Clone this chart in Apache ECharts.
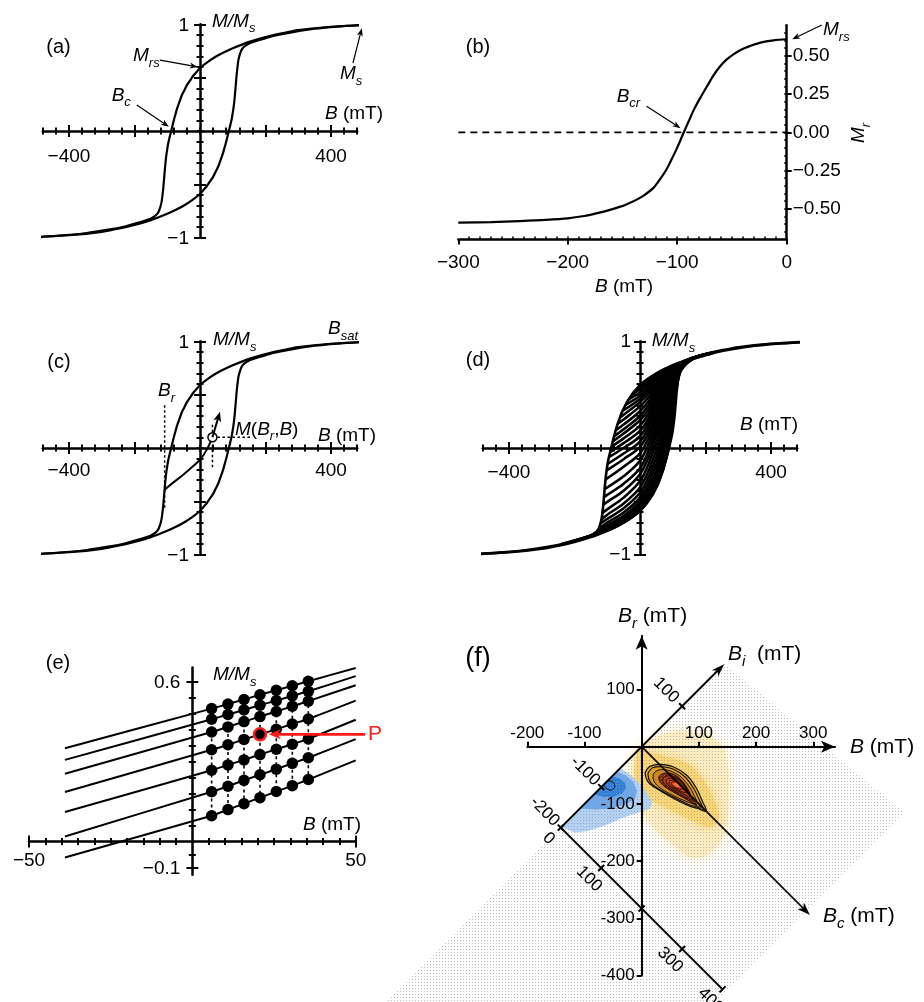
<!DOCTYPE html>
<html>
<head>
<meta charset="utf-8">
<title>Hysteresis loop, FORCs and FORC distribution</title>
<script src="https://cdn.jsdelivr.net/npm/echarts@6/dist/echarts.min.js"></script>
<style>
html,body{margin:0;padding:0;background:#ffffff;}
#chart{width:924px;height:1002px;}
</style>
</head>
<body>
<div id="chart"></div>
<script>
// ---------------- major hysteresis loop (B in mT, M/Ms) ----------------
const loopUpperB = [-500,-420,-350,-280,-224,-185,-165,-153,-143,-135,-130,-126,-123,-120,-117,-114.5,-112,-109.5,-107,-104.5,-102,-99.5,-97,-92.5,-88,-84,-80,-75,-70,-63,-56,-48,-40,-30,-20,-10,0,25,50,75,100,150,200,250,300,400,500];
const loopUpperM = [-0.995,-0.978,-0.958,-0.925,-0.89,-0.855,-0.838,-0.825,-0.808,-0.79,-0.775,-0.755,-0.73,-0.70,-0.66,-0.60,-0.53,-0.44,-0.35,-0.27,-0.21,-0.16,-0.115,-0.055,0,0.05,0.10,0.155,0.21,0.27,0.33,0.38,0.43,0.475,0.52,0.555,0.59,0.65,0.70,0.74,0.775,0.835,0.88,0.915,0.945,0.977,0.993];
const loopLowerB = [-500,-400,-300,-250,-200,-150,-100,-75,-50,-25,0,10,20,30,40,48,56,63,70,75,80,84,88,92.5,97,99.5,102,104.5,107,109.5,112,114.5,117,120,123,126,130,135,143,153,165,185,224,280,350,420,500];
const loopLowerM = [-0.993,-0.977,-0.945,-0.915,-0.88,-0.835,-0.775,-0.74,-0.70,-0.65,-0.59,-0.555,-0.52,-0.475,-0.43,-0.38,-0.33,-0.27,-0.21,-0.155,-0.10,-0.05,0,0.055,0.115,0.16,0.21,0.27,0.35,0.44,0.53,0.60,0.66,0.70,0.73,0.755,0.775,0.79,0.808,0.825,0.838,0.855,0.89,0.925,0.958,0.978,0.995];

// ---------------- (b) remanence curve ----------------
const remB = [-300,-270,-244,-220,-200,-185,-174,-163,-152,-144,-137,-130,-122,-116,-110,-105,-100,-94,-89,-85,-79,-73,-67,-61,-55,-49,-43,-35,-24,-12,0];
const remM = [-0.591,-0.587,-0.58,-0.572,-0.562,-0.547,-0.53,-0.51,-0.486,-0.463,-0.44,-0.41,-0.365,-0.31,-0.245,-0.175,-0.10,0,0.08,0.145,0.225,0.298,0.37,0.43,0.475,0.508,0.535,0.56,0.586,0.601,0.608];

// ---------------- (c) one reversal curve ----------------
const forcOneB = [-108,-80,-51,-25,0,20,38];
const forcOneM = [-0.39,-0.32,-0.25,-0.18,-0.11,-0.02,0.10];
const forcOneBr = -108;
const forcOnePoint = [38, 0.10];
const forcOneTip = [61, 0.34];

// ---------------- (d) family of reversal curves ----------------
const forcBr = [-240,-200,-180,-165,-150,-140,-133,-127,-122,-118,-115,-112,-110,-108,-105,-102,-99,-95,-91,-87,-83,-79,-74,-68,-61,-53,-44,-34,-24,-13];
const forcStartM = [-0.90,-0.868,-0.85,-0.836,-0.819,-0.80,-0.78,-0.76,-0.71,-0.67,-0.61,-0.53,-0.458,-0.386,-0.294,-0.21,-0.15,-0.086,-0.037,0.0125,0.0625,0.111,0.166,0.227,0.287,0.349,0.405,0.457,0.502,0.545];
const forcGridB = [-100,-50,0,30,60,90,120,160,220];
const forcM = [
  [-0.772,-0.697,-0.588,-0.474,-0.294,0.03,0.69,0.833,0.887],
  [-0.77,-0.695,-0.585,-0.47,-0.29,0.04,0.69,0.833,0.887],
  [-0.765,-0.69,-0.577,-0.46,-0.275,0.065,0.70,0.834,0.887],
  [-0.76,-0.683,-0.565,-0.445,-0.25,0.11,0.71,0.835,0.888],
  [-0.752,-0.672,-0.548,-0.42,-0.21,0.18,0.72,0.836,0.888],
  [-0.74,-0.655,-0.525,-0.385,-0.165,0.25,0.73,0.837,0.889],
  [-0.725,-0.635,-0.50,-0.35,-0.115,0.32,0.735,0.838,0.889],
  [-0.70,-0.605,-0.465,-0.30,-0.055,0.39,0.74,0.838,0.89],
  [-0.665,-0.565,-0.42,-0.245,0.015,0.45,0.745,0.839,0.89],
  [-0.625,-0.52,-0.37,-0.185,0.085,0.505,0.75,0.839,0.891],
  [-0.575,-0.465,-0.31,-0.12,0.155,0.545,0.755,0.84,0.891],
  [-0.505,-0.40,-0.245,-0.055,0.225,0.585,0.76,0.84,0.892],
  [-0.44,-0.335,-0.19,0.005,0.28,0.61,0.765,0.841,0.892],
  [-0.37,-0.265,-0.12,0.065,0.325,0.63,0.768,0.841,0.892],
  [null,-0.175,-0.05,0.12,0.37,0.65,0.771,0.842,0.893],
  [null,-0.105,0.01,0.17,0.41,0.665,0.774,0.842,0.893],
  [null,-0.052,0.06,0.22,0.44,0.677,0.777,0.842,0.893],
  [null,0.0,0.11,0.26,0.47,0.688,0.78,0.843,0.893],
  [null,0.046,0.16,0.30,0.50,0.698,0.782,0.843,0.894],
  [null,0.09,0.21,0.34,0.53,0.707,0.784,0.843,null],
  [null,0.136,0.26,0.38,0.555,0.716,0.786,0.843,null],
  [null,0.176,0.30,0.42,0.58,0.724,0.788,0.844,null],
  [null,0.22,0.345,0.455,0.60,0.731,0.79,0.844,null],
  [null,0.267,0.39,0.49,0.62,0.737,0.792,0.844,null],
  [null,0.311,0.43,0.52,0.64,0.742,0.794,null,null],
  [null,null,0.46,0.55,0.658,0.747,0.796,null,null],
  [null,null,0.49,0.575,0.675,0.751,0.797,null,null],
  [null,null,0.52,0.60,0.69,0.754,0.798,null,null],
  [null,null,0.55,0.62,0.70,0.756,0.799,null,null],
  [null,null,0.57,0.64,0.707,0.758,null,null,null]
];

// ---------------- (e) measurement points ----------------
const measLineB = [-39, 50];
const measLineEndM = [[0.351,0.653],[0.307,0.622],[0.255,0.588],[0.186,0.530],[0.111,0.458],[0.019,0.385],[-0.060,0.305]];
const measDotB = [5.9,10.9,15.8,20.7,25.7,30.6,35.5];
const measDotM = [
  [0.500,0.517,0.534,0.552,0.569,0.586,0.603],
  [0.460,0.478,0.495,0.513,0.530,0.548,0.565],
  [0.412,0.431,0.451,0.470,0.489,0.509,0.528],
  [0.345,0.364,0.384,0.403,0.422,0.442,0.461],
  [0.268,0.288,0.307,0.327,0.347,0.366,0.386],
  [0.187,0.208,0.230,0.251,0.272,0.294,0.315],
  [0.097,0.120,0.142,0.165,0.188,0.210,0.233]
];
const pointP = {row: 3, col: 3};

// ---------------- (f) FORC distribution, in (B, Br) mT ----------------
const fRegion = [[145,145],[460,-116],[40,-536],[-470,-470]];
const fPale = [[0,0],[40,22],[90,25],[135,8],[150,-30],[152,-90],[145,-150],[120,-185],[90,-195],[60,-175],[30,-150],[5,-120],[-12,-80],[-14,-30],[-8,-8]];
const fMid = [[-3,-4],[15,-10],[45,-18],[80,-30],[105,-55],[125,-90],[135,-125],[120,-140],[95,-132],[65,-118],[35,-102],[10,-88],[-8,-65],[-10,-30]];
const fBlueLight = [[-38,-38],[-25,-45],[-10,-58],[5,-75],[18,-95],[15,-108],[-5,-115],[-35,-125],[-65,-138],[-95,-148],[-118,-150],[-135,-142],[-142,-142]];
const fBlueMid = [[-44,-44],[-28,-50],[-14,-62],[-8,-78],[-12,-92],[-30,-102],[-55,-108],[-80,-110],[-105,-108],[-110,-110]];
const fBlueCore = [[-52,-52],[-40,-55],[-30,-62],[-27,-72],[-34,-82],[-50,-88],[-66,-88],[-80,-84],[-84,-84]];
const fBlueLoop = [[-60,-60],[-50,-62],[-47,-70],[-53,-76],[-63,-72],[-66,-66]];
const fC1 = [[6,-47],[9,-40],[15,-34],[32,-31],[55,-35],[79,-50],[96,-73],[106,-95],[113,-113],[98,-108],[84,-104],[55,-90],[26,-73],[12,-63]];
const fC2 = [[11,-48],[14,-42],[19,-37],[34,-35],[55,-39],[76,-53],[92,-75],[102,-96],[108,-110],[95,-105],[82,-101],[55,-88],[28,-73],[15,-62]];
const fC3 = [[20,-50],[25,-43],[36,-40],[54,-44],[72,-56],[87,-76],[97,-96],[103,-106],[90,-100],[76,-95],[54,-85],[32,-72],[22,-61]];
const fC4 = [[30,-53],[38,-47],[52,-47],[67,-56],[80,-73],[90,-93],[96,-102],[82,-94],[64,-84],[45,-73],[33,-63]];
const fC5 = [[37,-56],[44,-51],[56,-52],[69,-60],[80,-76],[88,-93],[76,-88],[60,-79],[45,-70],[38,-63]];
const fC6 = [[43,-59],[50,-55],[61,-56],[72,-64],[80,-77],[84,-88],[72,-82],[58,-75],[47,-68]];
const fC7 = [[48,-61],[56,-58],[65,-61],[74,-70],[79,-80],[69,-78],[57,-72],[50,-67]];
const fC8 = [[52,-63],[60,-61],[68,-65],[74,-73],[67,-74],[57,-70]];
const fCore = [[56,-65],[62,-64],[67,-68],[63,-71],[58,-69]];

// rotated axes of panel (f)
const fBiTicks = [-200,-100,100];
const fBiEnd = 204;
const fBcEnd = 416;
const fBcTicks = [0,100,200,300,400];
const fBcTickText = ['0','100','','300','400'];
const fBcOrigin = -200; // lower Bc scale starts at Bi = -200

// ---------------- axis tick lists ----------------
const crossMinorX = []; for (let v = -480; v <= 480; v += 40) crossMinorX.push(v);
const crossMajorX = [-400,-200,200,400];
const crossLabelX = [-400,400];
const crossMinorY = []; for (let k = -9; k <= 9; k++) crossMinorY.push(k / 10);
const crossMajorY = [-1,-0.5,0.5,1];
const crossLabelY = [-1,1];
const remMajorX = [-300,-200,-100,0];
const remMinorX = []; for (let v = -290; v < 0; v += 10) remMinorX.push(v);
const remMajorY = [-0.5,-0.25,0,0.25,0.5];
const remMinorY = []; for (let k = -13; k <= 13; k++) remMinorY.push(k * 0.05);
const measMinorX = []; for (let v = -45; v <= 45; v += 5) if (v !== 0) measMinorX.push(v);
const measMajorX = [-50,50];
const measMinorY = [-0.05,0.06,0.12,0.18,0.24,0.30,0.36,0.42,0.48,0.54];
const measMajorY = [-0.1,0.6];
const fTicksB = [-200,-100,100,200,300];
const fTicksBr = [100,-100,-200,-300,-400];

// ---------------- annotation arrows (data coordinates) ----------------
const arrowMrsA = [[-122,0.665],[-7,0.60]];
const arrowBcA = [[-193,0.244],[-95,0.04]];
const arrowMsA = [[467,0.637],[494,0.963]];
const arrowMrsB = [[32,0.701],[5,0.608]];
const arrowBcrB = [[-128,0.171],[-97,0.027]];
const arrowP = [[52.9,0.403],[23.4,0.403]];

// =====================================================================
const FONT = "'Liberation Sans', Arial, Helvetica, sans-serif";
const minus = v => (v < 0 ? '\u2212' : '') + String(Math.abs(v));
const minus2 = v => (v < 0 ? '\u2212' : '') + Math.abs(v).toFixed(2);
const minus1 = v => (v < 0 ? '\u2212' : '') + Math.abs(v).toFixed(1);

const grid = [
  {left: 42.8, top: 24.3, width: 314.4, height: 213.4},   // a
  {left: 458.3, top: 25.2, width: 328.4, height: 214.2},  // b
  {left: 42.8, top: 341.3, width: 314.4, height: 213.4},  // c
  {left: 482.8, top: 341.3, width: 314.4, height: 213.4}, // d
  {left: 29, top: 667.4, width: 326.7, height: 207.3},    // e
  {left: 390, top: 623.7, width: 526.2, height: 380.4},   // f field
  {left: 527.3, top: 635.7, width: 307.7, height: 339.8}  // f axes
].map(g => Object.assign({show: false, containLabel: false, outerBoundsMode: 'none'}, g));

const xAxis = [], yAxis = [];
const AX = {}, AY = {};
const push = (list, o) => { list.push(o); return list.length - 1; };
const base = (g, min, max, pos) => ({type: 'value', gridIndex: g, min, max, position: pos, splitLine: {show: false}, z: 5, silent: true});
function mainAxis(g, min, max, pos, o) {
  return Object.assign(base(g, min, max, pos), {
    axisLine: {show: true, onZero: o.onZero, symbol: o.symbol || 'none', symbolSize: o.symbolSize || [10, 15],
      lineStyle: {color: '#000', width: o.lineWidth || 2.5}},
    axisTick: {show: true, inside: !!o.tickInside, length: o.tickLen, customValues: o.ticks,
      lineStyle: {color: '#000', width: o.tickWidth || 2}},
    axisLabel: o.labels ? {show: true, customValues: o.labels, margin: o.margin, formatter: o.fmt,
      color: '#000', fontFamily: FONT, fontSize: o.fontSize || 19} : {show: false}
  });
}
function tickAxis(g, min, max, pos, onZero, vals, len, inside, w) {
  return Object.assign(base(g, min, max, pos), {
    axisLine: {show: false, onZero},
    axisTick: {show: true, inside, length: len, customValues: vals, lineStyle: {color: '#000', width: w}},
    axisLabel: {show: false}
  });
}

// crossing axes of panels a, c, d
[[0,'a'],[2,'c'],[3,'d']].forEach(([g, k]) => {
  AX[k] = push(xAxis, mainAxis(g, -480, 480, 'bottom', {onZero: true, ticks: crossMinorX, tickLen: 3.5}));
  push(xAxis, tickAxis(g, -480, 480, 'bottom', true, crossMinorX, 3.5, true, 2));
  push(xAxis, tickAxis(g, -480, 480, 'bottom', true, crossMajorX, 6, false, 2));
  push(xAxis, tickAxis(g, -480, 480, 'bottom', true, crossMajorX, 6, true, 2));
  AY[k] = push(yAxis, mainAxis(g, -1, 1, 'left', {onZero: true, ticks: crossMinorY, tickLen: 3.5}));
  push(yAxis, tickAxis(g, -1, 1, 'left', true, crossMinorY, 3.5, true, 2));
  push(yAxis, tickAxis(g, -1, 1, 'left', true, crossMajorY, 6, false, 2));
  push(yAxis, tickAxis(g, -1, 1, 'left', true, crossMajorY, 6, true, 2));
});

// panel b
AX.b = push(xAxis, mainAxis(1, -300, 0, 'bottom', {onZero: false, ticks: remMajorX, tickLen: 5, labels: remMajorX, margin: 14, fmt: minus}));
push(xAxis, tickAxis(1, -300, 0, 'bottom', false, remMinorX, 3, true, 1.5));
AY.b = push(yAxis, mainAxis(1, -0.7, 0.7, 'right', {onZero: false, ticks: remMajorY, tickLen: 5, labels: remMajorY, margin: 6, fmt: minus2}));
push(yAxis, tickAxis(1, -0.7, 0.7, 'right', false, remMinorY, 2.5, true, 1.5));

// panel e
AX.e = push(xAxis, mainAxis(4, -50, 50, 'bottom', {onZero: true, ticks: measMinorX, tickLen: 3.5}));
push(xAxis, tickAxis(4, -50, 50, 'bottom', true, measMinorX, 3.5, true, 2));
push(xAxis, tickAxis(4, -50, 50, 'bottom', true, measMajorX, 6, false, 2));
push(xAxis, tickAxis(4, -50, 50, 'bottom', true, measMajorX, 6, true, 2));
AY.e = push(yAxis, mainAxis(4, -0.125, 0.655, 'left', {onZero: true, ticks: measMinorY, tickLen: 3.5}));
push(yAxis, tickAxis(4, -0.125, 0.655, 'left', true, measMinorY, 3.5, true, 2));
push(yAxis, tickAxis(4, -0.125, 0.655, 'left', true, measMajorY, 6, false, 2));
push(yAxis, tickAxis(4, -0.125, 0.655, 'left', true, measMajorY, 6, true, 2));

// panel f: field grid (hidden axes) and visible B / Br axes
AX.f = push(xAxis, Object.assign(base(5, -440, 480, 'bottom'), {show: false}));
AY.f = push(yAxis, Object.assign(base(5, -450, 215, 'left'), {show: false}));
AX.f2 = push(xAxis, mainAxis(6, -200, 338, 'top', {onZero: true, ticks: fTicksB, tickLen: 5, lineWidth: 2, symbol: ['none','arrow'], symbolSize: [9, 14]}));
AY.f2 = push(yAxis, mainAxis(6, -400, 194, 'left', {onZero: true, ticks: fTicksBr, tickLen: 5, lineWidth: 2, symbol: ['none','arrow'], symbolSize: [9, 14]}));
xAxis[AX.f2].z = 8; yAxis[AY.f2].z = 8;

// ---------------- series ----------------
const zip = (xs, ys) => xs.map((x, i) => [x, ys[i]]);
const series = [];
function line(k, data, o) {
  return Object.assign({type: 'line', xAxisIndex: AX[k], yAxisIndex: AY[k], data, showSymbol: false, silent: true, clip: false,
    smooth: 0.3, lineStyle: {color: '#000', width: 2.2}, z: 2}, o || {});
}

// (a)
series.push(line('a', zip(loopUpperB, loopUpperM)));
series.push(line('a', zip(loopLowerB, loopLowerM)));

// (b)
series.push(line('b', [[remMajorX[0], 0], [0, 0]], {smooth: false, lineStyle: {color: '#000', width: 1.8, type: [7, 5]}}));
series.push(line('b', zip(remB, remM)));

// (c)
series.push(line('c', [[forcOneBr, -0.56], [forcOneBr, 0.42]], {smooth: false, lineStyle: {color: '#000', width: 1.5, type: [2.5, 2.5]}}));
series.push(line('c', [[forcOnePoint[0], -0.18], [forcOnePoint[0], 0.23]], {smooth: false, lineStyle: {color: '#000', width: 1.5, type: [2.5, 2.5]}}));
series.push(line('c', [forcOnePoint, [158, forcOnePoint[1]]], {smooth: false, lineStyle: {color: '#000', width: 1.5, type: [2.5, 2.5]}}));
series.push(line('c', zip(loopUpperB, loopUpperM)));
series.push(line('c', zip(loopLowerB, loopLowerM)));
series.push(line('c', zip(forcOneB, forcOneM), {lineStyle: {color: '#000', width: 2}}));
series.push({type: 'scatter', xAxisIndex: AX.c, yAxisIndex: AY.c, data: [forcOnePoint], symbolSize: 9, silent: true, z: 4,
  itemStyle: {color: '#fff', borderColor: '#000', borderWidth: 1.5, opacity: 1}});

// (d)
forcBr.forEach((br, i) => {
  const pts = [[br, forcStartM[i]]];
  forcM[i].forEach((m, k) => { if (m !== null) pts.push([forcGridB[k], m]); });
  series.push(line('d', pts, {smooth: 0.35, lineStyle: {color: '#000', width: 2.6}}));
});
series.push(line('d', zip(loopUpperB, loopUpperM), {lineStyle: {color: '#000', width: 2.6}}));
series.push(line('d', zip(loopLowerB, loopLowerM), {lineStyle: {color: '#000', width: 2.6}}));

// (e)
measDotM.forEach((row, r) => {
  const pts = [[measLineB[0], measLineEndM[r][0]]].concat(measDotB.map((b, c) => [b, row[c]]), [[measLineB[1], measLineEndM[r][1]]]);
  series.push(line('e', pts, {smooth: 0.2, lineStyle: {color: '#000', width: 2}}));
});
measDotB.forEach((b, c) => {
  series.push(line('e', [[b, measDotM[0][c]], [b, measDotM[measDotM.length - 1][c]]], {smooth: false, lineStyle: {color: '#000', width: 1.6, type: [3, 3]}}));
});
const dots = [];
measDotM.forEach(row => row.forEach((m, c) => dots.push([measDotB[c], m])));
series.push({type: 'scatter', xAxisIndex: AX.e, yAxisIndex: AY.e, data: dots, symbolSize: 11.5, silent: true, z: 3, itemStyle: {color: '#000', opacity: 1}});
series.push({type: 'scatter', xAxisIndex: AX.e, yAxisIndex: AY.e, data: [[measDotB[pointP.col], measDotM[pointP.row][pointP.col]]],
  symbolSize: 12, silent: true, z: 4, itemStyle: {color: '#000', borderColor: '#ff1a1a', borderWidth: 2.5, opacity: 1}});

// (f) filled distribution
const patternCanvas = document.createElement('canvas');
patternCanvas.width = 3; patternCanvas.height = 3;
(function () { const c = patternCanvas.getContext('2d'); c.fillStyle = 'rgba(150,150,150,0.65)'; c.fillRect(1, 1, 1, 1); })();

function polySeries(layers, z) {
  return {
    type: 'custom', xAxisIndex: AX.f, yAxisIndex: AY.f, z, silent: true, clip: false,
    data: layers.map(() => [0, 0]),
    renderItem: (params, api) => {
      const L = layers[params.dataIndex];
      return {type: 'polygon', shape: {points: L.pts.map(p => api.coord(p)), smooth: L.smooth || 0},
        style: {fill: L.fill || 'none', stroke: L.stroke || 'none', lineWidth: L.lw || 0,
          shadowBlur: L.blur || 0, shadowColor: L.blur ? L.fill : 'rgba(0,0,0,0)', opacity: L.opacity == null ? 1 : L.opacity}};
    }
  };
}
series.push(polySeries([
  {pts: fPale, fill: '#fcedc2', smooth: 0.45, blur: 14},
  {pts: fMid, fill: '#f8d676', smooth: 0.45, blur: 12},
  {pts: fBlueLight, fill: '#b3d1f3'},
  {pts: fBlueMid, fill: '#6fa8ea'},
  {pts: fBlueCore, fill: '#2f80d8'},
  {pts: fC1, fill: '#ecae27', smooth: 0.35},
  {pts: fC2, fill: '#e3a01d', smooth: 0.35},
  {pts: fC3, fill: '#d2861b', smooth: 0.35},
  {pts: fC4, fill: '#7e2e0f', smooth: 0.35},
  {pts: fC5, fill: '#9c3513', smooth: 0.35},
  {pts: fC6, fill: '#bb3c18', smooth: 0.35},
  {pts: fC7, fill: '#d6421c', smooth: 0.35},
  {pts: fC8, fill: '#ea4a20', smooth: 0.35},
  {pts: fCore, fill: '#ff6a30', smooth: 0.35}
], 2));
series.push(polySeries([{pts: fRegion, fill: {image: patternCanvas, repeat: 'repeat'}}], 3));
series.push(polySeries([
  {pts: fC1, stroke: '#111', lw: 1.2, smooth: 0.35},
  {pts: fC2, stroke: '#111', lw: 1.1, smooth: 0.35},
  {pts: fC3, stroke: '#111', lw: 1.0, smooth: 0.35},
  {pts: fC4, stroke: '#1a0702', lw: 1.0, smooth: 0.35},
  {pts: fC5, stroke: '#1a0702', lw: 0.9, smooth: 0.35},
  {pts: fC6, stroke: '#1a0702', lw: 0.9, smooth: 0.35},
  {pts: fC7, stroke: '#1a0702', lw: 0.9, smooth: 0.35},
  {pts: fC8, stroke: '#1a0702', lw: 0.9, smooth: 0.35},
  {pts: fBlueLoop, stroke: '#111', lw: 1.0, smooth: 0.3}
], 4));

// arrow made of a shaft and a notched head (pixel space)
function arrowEls(p1, p2, color, width, headLen, headW, z) {
  const dx = p2[0] - p1[0], dy = p2[1] - p1[1];
  const L = Math.hypot(dx, dy), ux = dx / L, uy = dy / L;
  const bx = p2[0] - ux * headLen, by = p2[1] - uy * headLen;
  const nx = p2[0] - ux * headLen * 0.72, ny = p2[1] - uy * headLen * 0.72;
  return [
    {type: 'line', z, silent: true, shape: {x1: p1[0], y1: p1[1], x2: nx, y2: ny}, style: {stroke: color, lineWidth: width}},
    {type: 'polygon', z, silent: true, shape: {points: [[p2[0], p2[1]], [bx - uy * headW / 2, by + ux * headW / 2], [nx, ny], [bx + uy * headW / 2, by - ux * headW / 2]]},
      style: {fill: color, stroke: 'none'}}
  ];
}

// rotated Bi / Bc axes of panel (f)
series.push({
  type: 'custom', xAxisIndex: AX.f, yAxisIndex: AY.f, z: 6, silent: true, clip: false, data: [[0, 0]],
  renderItem: (params, api) => {
    const u = Math.SQRT1_2;
    const P = (b, r) => api.coord([b, r]);
    const kids = [];
    const seg = (a, b, w) => kids.push({type: 'line', shape: {x1: a[0], y1: a[1], x2: b[0], y2: b[1]}, style: {stroke: '#000', lineWidth: w}});
    const label = (pt, text, ox, oy) => kids.push({type: 'text', x: pt[0] + ox, y: pt[1] + oy, rotation: -Math.PI / 4,
      style: {text, fontFamily: FONT, fontSize: 17, fill: '#000', align: 'center', verticalAlign: 'middle'}});
    const onBi = d => P(d * u, d * u);
    kids.push(...arrowEls(onBi(fBiTicks[0]), onBi(fBiEnd), '#000', 2, 13, 9, 0));
    fBiTicks.forEach(d => {
      const c = onBi(d);
      seg([c[0] - 3, c[1] - 3], [c[0] + 3, c[1] + 3], 2);
      label(c, String(d), -16, -16);
    });
    const onBc = (o, d) => P(o[0] + d * u, o[1] - d * u);
    kids.push(...arrowEls(P(0, 0), onBc([0, 0], fBcEnd), '#000', 1.6, 13, 9, 0));
    const o = [fBcOrigin * u, fBcOrigin * u];
    seg(onBc(o, 0), onBc(o, fBcTicks[fBcTicks.length - 1]), 2);
    fBcTicks.forEach((d, i) => {
      const c = onBc(o, d);
      seg([c[0] - 3, c[1] + 3], [c[0] + 3, c[1] - 3], 2);
      if (fBcTickText[i]) label(c, fBcTickText[i], -12, 11);
    });
    return {type: 'group', children: kids};
  }
});

const option = {
  animation: false,
  backgroundColor: '#ffffff',
  textStyle: {fontFamily: FONT},
  grid, xAxis, yAxis, series
};

const chart = echarts.init(document.getElementById('chart'), null, {renderer: 'canvas', width: 924, height: 1002});
chart.setOption(option);

// ---------------- labels and annotations ----------------
const richFor = size => ({
  i: {fontFamily: FONT, fontSize: size, fontStyle: 'italic', fill: '#000'},
  n: {fontFamily: FONT, fontSize: size, fill: '#000'},
  s: {fontFamily: FONT, fontSize: Math.round(size * 0.7), fontStyle: 'italic', fill: '#000', padding: [Math.round(size * 0.75), 0, 0, 0]}
});
function rtext(x, y, text, size, align, extra) {
  return Object.assign({type: 'text', x, y, z: 30, silent: true,
    style: {text, rich: richFor(size), align: align || 'left', verticalAlign: 'middle', fontFamily: FONT, fontSize: size, fill: '#000'}}, extra || {});
}
const toPx = (k, v) => chart.convertToPixel({xAxisIndex: AX[k], yAxisIndex: AY[k]}, v);
const els = [];
// tick labels placed next to the crossing axes
function tickLabels(k, vals, dim, dx, dy, align, size, fmt) {
  vals.forEach(v => {
    const p = toPx(k, dim === 'x' ? [v, 0] : [0, v]);
    els.push({type: 'text', x: p[0] + dx, y: p[1] + dy, z: 30, silent: true,
      style: {text: fmt(v), fontFamily: FONT, fontSize: size, fill: '#000', align, verticalAlign: 'middle'}});
  });
}
tickLabels('a', crossLabelX, 'x', 0, 26, 'center', 19, minus);
tickLabels('a', crossLabelY, 'y', -11, 1.5, 'right', 19, minus);
tickLabels('c', crossLabelX, 'x', 0, 23, 'center', 19, minus);
tickLabels('c', crossLabelY, 'y', -11, 1.5, 'right', 19, minus);
tickLabels('d', crossLabelX, 'x', 0, 25, 'center', 19, minus);
tickLabels('d', crossLabelY, 'y', -9, 0.5, 'right', 19, minus);
tickLabels('e', measMajorX, 'x', 0, 19, 'center', 19, minus);
tickLabels('e', measMajorY, 'y', -12, 1, 'right', 19, minus1);
tickLabels('f2', fTicksB, 'x', 0, -13, 'center', 17, String);
tickLabels('f2', fTicksBr, 'y', -7, 0, 'right', 17, String);

// panel letters
els.push(rtext(58.5, 47, '{n|(a)}', 20, 'center'));
els.push(rtext(478, 47, '{n|(b)}', 20, 'center'));
els.push(rtext(59, 362, '{n|(c)}', 20, 'center'));
els.push(rtext(478, 360, '{n|(d)}', 20, 'center'));
els.push(rtext(58, 663, '{n|(e)}', 20, 'center'));
els.push(rtext(478, 659, '{n|(f)}', 27, 'center'));
// (a)
els.push(rtext(212, 21.5, '{i|M/M}{s|s}', 19));
els.push(rtext(325, 114, '{i|B}{n| (mT)}', 19));
els.push(rtext(133, 56, '{i|M}{s|rs}', 19));
els.push(rtext(111.7, 95.5, '{i|B}{s|c}', 19));
els.push(rtext(340, 74, '{i|M}{s|s}', 19));
// (b)
els.push(rtext(823, 30, '{i|M}{s|rs}', 19));
els.push(rtext(616.7, 96.5, '{i|B}{s|cr}', 19));
els.push(rtext(624, 287, '{i|B}{n| (mT)}', 19, 'center'));
els.push(rtext(859, 133, '{i|M}{s|r}', 19, 'center', {rotation: Math.PI / 2}));
// (c)
els.push(rtext(213, 340, '{i|M/M}{s|s}', 19));
els.push(rtext(318, 436, '{i|B}{n| (mT)}', 19));
els.push(rtext(328, 329, '{i|B}{s|sat}', 19));
els.push(rtext(158, 391, '{i|B}{s|r}', 19));
els.push(rtext(235, 429.5, '{i|M}{n|(}{i|B}{s|r}{n|,}{i|B}{n|)}', 19));
// (d)
els.push(rtext(651.7, 341, '{i|M/M}{s|s}', 19));
els.push(rtext(740, 425, '{i|B}{n| (mT)}', 19));
// (e)
els.push(rtext(213, 675, '{i|M/M}{s|s}', 19));
els.push(rtext(303, 825, '{i|B}{n| (mT)}', 19));
els.push({type: 'text', x: 375, y: 734, z: 30, silent: true, style: {text: 'P', fontFamily: FONT, fontSize: 21, fill: '#ff1a1a', align: 'center', verticalAlign: 'middle'}});
// (f)
els.push(rtext(618, 616, '{i|B}{s|r}{n| (mT)}', 21));
els.push(rtext(728, 654, '{i|B}{s|i}{n|  (mT)}', 21));
els.push(rtext(850, 747, '{i|B}{n| (mT)}', 21));
els.push(rtext(823, 916, '{i|B}{s|c}{n| (mT)}', 21));
// arrows
[['a', arrowMrsA], ['a', arrowBcA], ['a', arrowMsA], ['b', arrowMrsB], ['b', arrowBcrB]].forEach(([k, a]) =>
  els.push(...arrowEls(toPx(k, a[0]), toPx(k, a[1]), '#000', 1.2, 8, 6, 30)));
els.push(...arrowEls(toPx('c', forcOnePoint), toPx('c', forcOneTip), '#000', 2, 10, 8, 30));
els.push(...arrowEls(toPx('e', arrowP[0]), toPx('e', arrowP[1]), '#ff1a1a', 2.6, 12, 10, 30));

chart.setOption({graphic: {elements: els}});
</script>
</body>
</html>
